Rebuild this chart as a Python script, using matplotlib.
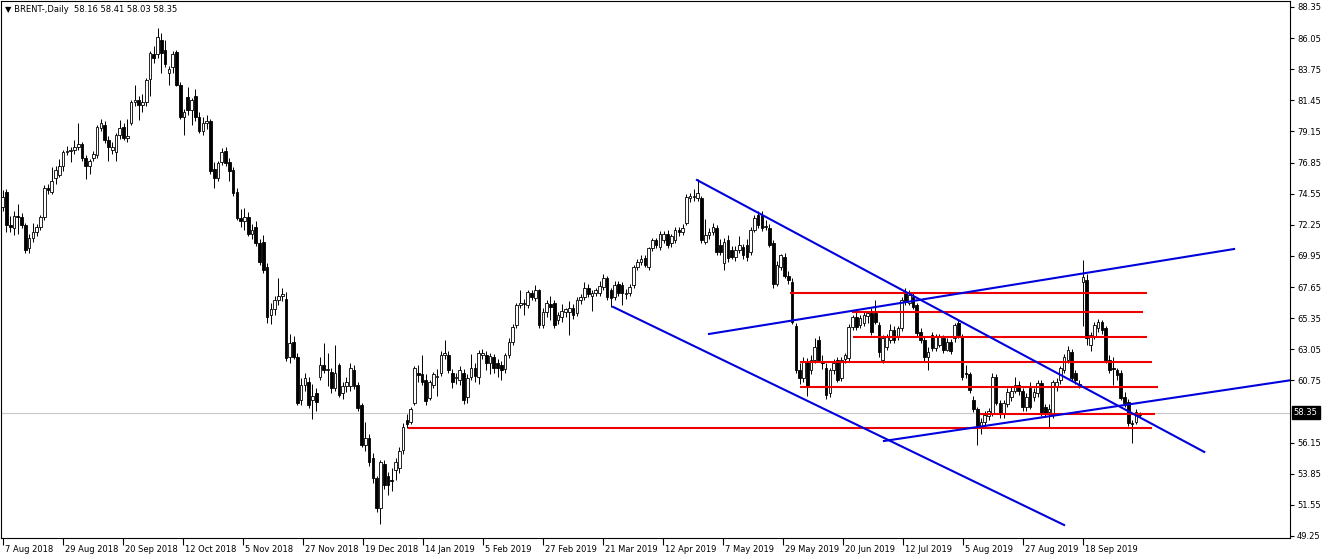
import numpy as np
import matplotlib.pyplot as plt
import matplotlib.transforms as mtransforms

# Daily BRENT candles (bar 0 = 7 Aug 2018)
opens = [
    73.6, 74.7, 72.2, 72.0, 72.9, 72.8, 72.2, 70.5, 71.3, 71.7,
    72.1, 72.8, 75.0, 74.7, 75.7, 75.9, 76.6, 77.6, 77.7, 77.8,
    78.0, 78.2, 77.2, 76.6, 77.2, 77.4, 79.4, 79.6, 78.5, 77.8,
    77.6, 78.9, 79.5, 78.7, 79.8, 81.3, 81.5, 81.1, 81.3, 83.0,
    84.9, 84.9, 85.9, 85.2, 83.5, 83.9, 85.0, 82.6, 80.2, 81.7,
    80.7, 81.8, 80.2, 79.2, 79.8, 79.9, 76.4, 75.7, 76.9, 77.7,
    76.9, 76.3, 74.7, 72.75, 72.5, 72.85, 71.6, 72.1, 70.9, 71.0,
    69.1, 65.6, 66.0, 66.7, 67.0, 66.8, 62.5, 63.6, 62.5, 59.3,
    60.4, 60.6, 59.3, 59.8, 61.0, 61.9, 61.5, 61.4, 60.2, 61.9,
    59.8, 60.3, 60.3, 61.5, 60.4, 58.9, 56.0, 56.5, 55.0, 53.5,
    51.3, 54.6, 53.7, 53.4, 54.1, 54.3, 55.6, 57.8, 57.7, 59.1,
    61.3, 61.2, 60.8, 59.45, 60.4, 61.0, 61.3, 62.6, 62.6, 61.3,
    60.9, 60.8, 61.3, 59.5, 61.0, 61.7, 61.0, 62.6, 62.6, 62.0,
    62.5, 62.0, 61.9, 61.6, 62.6, 63.6, 64.85, 66.3, 66.5, 66.3,
    67.2, 66.85, 67.4, 64.85, 65.8, 66.4, 66.5, 65.2, 65.4, 65.8,
    65.8, 66.1, 65.7, 66.7, 66.9, 67.6, 67.0, 67.2, 67.2, 67.65,
    68.3, 67.4, 66.9, 67.9, 67.8, 67.1, 67.2, 67.8, 69.1, 69.5,
    69.8, 69.1, 70.5, 71.1, 70.6, 71.1, 71.6, 70.9, 71.1, 71.9,
    71.7, 72.4, 74.2, 74.3, 74.25, 74.25, 71.0, 71.5, 71.7, 72.0,
    70.75, 69.4, 71.1, 70.4, 69.9, 70.4, 70.6, 70.75, 70.25, 71.9,
    73.0, 73.0, 72.1, 72.0, 70.9, 67.9, 69.1, 69.9, 68.5, 68.0,
    64.8, 61.5, 60.9, 62.1, 61.5, 62.25, 63.7, 62.2, 61.7, 59.8,
    61.5, 62.25, 60.9, 62.3, 62.4, 64.7, 65.45, 64.85, 65.0, 65.5,
    65.7, 65.7, 64.85, 62.25, 63.2, 63.75, 64.5, 63.95, 64.6, 67.2,
    66.5, 66.9, 66.3, 64.3, 63.75, 62.5, 64.1, 63.15, 63.4, 63.9,
    63.0, 63.6, 63.85, 65.0, 63.95, 61.3, 61.2, 59.3, 58.6, 57.3,
    57.7, 58.1, 58.35, 61.0, 59.1, 58.3, 59.0, 59.5, 60.0, 60.4,
    60.0, 58.8, 60.2, 59.5, 59.8, 60.55, 58.8, 58.4, 58.35, 60.3,
    60.75, 61.5, 62.25, 62.85, 61.3, 60.5, 68.0, 68.2, 63.4, 64.0,
    64.6, 65.05, 64.6, 62.25, 61.7, 61.5, 61.3, 59.5, 59.15, 57.6,
    57.65, 58.16,
]
highs = [
    74.8, 74.9, 72.9, 73.3, 73.8, 73.1, 72.4, 71.6, 72.4, 72.3,
    73.0, 75.2, 75.3, 76.5, 76.6, 77.1, 77.8, 78.1, 78.0, 78.5,
    79.8, 78.4, 77.4, 77.1, 77.7, 79.6, 80.1, 79.9, 78.8, 78.4,
    79.0, 80.0, 79.8, 80.1, 81.5, 82.6, 81.8, 81.9, 83.1, 85.1,
    85.5, 86.8, 86.4, 85.9, 84.0, 85.1, 85.2, 82.8, 80.8, 82.4,
    81.6, 82.3, 80.6, 80.2, 80.4, 80.1, 76.9, 77.0, 77.9, 78.0,
    77.2, 76.5, 75.0, 73.4, 73.5, 73.2, 72.3, 72.5, 71.2, 71.5,
    69.4, 66.5, 67.0, 68.3, 67.6, 67.3, 64.2, 64.0, 62.8, 60.9,
    61.3, 61.0, 60.5, 60.2, 62.5, 63.5, 62.8, 61.7, 63.4, 62.0,
    60.6, 61.0, 62.0, 61.9, 60.6, 59.1, 57.7, 56.8, 55.4, 53.7,
    54.9, 54.9, 54.0, 54.3, 55.0, 55.8, 57.6, 58.3, 58.8, 61.8,
    61.9, 62.6, 61.2, 60.8, 61.4, 61.6, 62.9, 63.7, 62.9, 61.6,
    61.3, 61.8, 61.6, 61.2, 62.7, 62.0, 63.0, 63.1, 62.9, 62.8,
    62.7, 62.3, 62.2, 62.8, 63.9, 64.9, 66.5, 67.4, 66.8, 67.4,
    67.4, 67.8, 67.5, 66.1, 66.7, 67.0, 66.7, 65.8, 66.4, 66.1,
    66.6, 66.4, 66.9, 67.1, 68.0, 67.9, 67.4, 67.6, 68.1, 68.6,
    68.5, 67.6, 68.1, 68.1, 68.0, 67.5, 67.9, 69.3, 69.7, 70.0,
    70.0, 70.6, 71.3, 71.3, 71.8, 71.8, 71.9, 71.6, 72.1, 72.1,
    72.3, 74.5, 74.6, 74.9, 75.6, 74.4, 72.7, 72.0, 72.4, 72.2,
    71.2, 71.3, 71.5, 70.7, 70.7, 71.4, 70.8, 71.2, 72.1, 73.0,
    73.3, 73.3, 72.6, 72.3, 71.1, 69.6, 70.1, 70.2, 68.8, 68.3,
    65.0, 62.0, 62.5, 62.4, 62.6, 63.9, 64.0, 62.6, 62.0, 61.7,
    62.3, 62.5, 62.5, 62.8, 64.9, 65.6, 65.8, 65.6, 65.9, 65.9,
    66.1, 66.7, 65.1, 64.1, 64.2, 64.9, 64.8, 64.8, 66.9, 67.6,
    67.4, 67.2, 66.5, 64.6, 64.0, 63.2, 64.3, 64.2, 64.2, 64.1,
    63.9, 63.8, 65.0, 65.3, 64.2, 61.9, 61.4, 59.6, 58.8, 58.0,
    58.5, 58.7, 61.3, 61.2, 59.3, 59.3, 60.2, 60.3, 61.0, 60.7,
    60.2, 59.8, 60.6, 60.2, 60.8, 60.8, 59.0, 59.0, 60.8, 60.9,
    61.8, 62.7, 63.3, 63.1, 61.5, 60.8, 69.65, 68.6, 64.3, 65.1,
    65.3, 65.2, 64.8, 62.6, 62.5, 61.7, 61.5, 59.9, 59.4, 57.8,
    58.6, 58.41,
]
lows = [
    73.3, 71.7, 71.7, 71.5, 71.6, 72.0, 70.2, 70.2, 71.0, 71.4,
    71.9, 72.6, 74.5, 74.5, 75.3, 75.8, 76.2, 77.4, 76.9, 77.5,
    77.8, 77.0, 75.6, 76.0, 77.0, 77.2, 79.2, 78.3, 77.0, 77.5,
    77.0, 78.6, 78.5, 78.4, 79.6, 81.0, 80.0, 80.6, 81.0, 81.8,
    84.2, 84.6, 83.5, 83.9, 82.6, 83.5, 82.5, 80.1, 78.9, 80.4,
    79.6, 79.9, 79.0, 78.9, 79.3, 76.0, 75.0, 75.5, 76.7, 76.6,
    75.5, 74.4, 72.6, 72.1, 71.9, 71.4, 71.2, 70.7, 69.3, 68.7,
    65.0, 64.9, 65.6, 66.3, 66.6, 62.2, 62.0, 62.3, 58.9, 58.9,
    60.0, 58.7, 57.9, 58.5, 60.8, 61.3, 60.3, 59.8, 60.0, 59.5,
    59.4, 59.9, 60.0, 60.1, 58.5, 55.8, 55.5, 54.4, 53.2, 51.0,
    50.1, 52.7, 52.3, 52.6, 53.4, 53.9, 55.3, 57.2, 57.5, 58.9,
    60.6, 60.4, 58.9, 59.3, 60.2, 59.6, 61.1, 62.3, 61.3, 60.2,
    60.5, 60.4, 59.0, 59.1, 60.8, 60.6, 60.5, 62.3, 61.5, 61.2,
    61.3, 61.0, 60.8, 61.3, 62.4, 63.4, 64.6, 66.1, 65.6, 66.1,
    66.7, 66.6, 64.6, 64.6, 65.4, 65.2, 64.6, 64.9, 65.1, 65.4,
    64.1, 65.3, 65.5, 66.4, 66.7, 66.9, 65.9, 67.0, 67.0, 67.4,
    66.7, 66.2, 66.7, 67.0, 66.3, 66.8, 67.0, 67.6, 68.9, 69.3,
    69.1, 68.9, 70.3, 70.5, 70.4, 70.9, 70.5, 70.6, 70.9, 71.4,
    71.5, 72.2, 73.9, 74.0, 74.0, 70.9, 70.8, 71.2, 71.5, 70.0,
    70.0, 68.9, 69.5, 69.7, 69.6, 70.2, 69.7, 69.6, 70.0, 71.7,
    72.0, 71.8, 71.9, 70.6, 67.6, 67.7, 68.9, 68.3, 67.9, 64.9,
    61.3, 60.5, 60.6, 59.6, 61.2, 62.0, 62.1, 61.6, 59.4, 59.5,
    61.2, 60.6, 60.7, 62.0, 62.2, 64.5, 64.5, 64.6, 64.8, 65.0,
    64.1, 64.9, 62.5, 62.0, 63.0, 63.5, 63.5, 63.7, 64.4, 66.3,
    66.3, 66.0, 64.0, 63.5, 62.2, 61.5, 62.9, 62.9, 63.2, 62.8,
    62.9, 62.7, 63.6, 63.9, 60.8, 60.9, 59.8, 58.4, 56.0, 56.8,
    57.4, 57.8, 58.1, 58.9, 58.0, 58.0, 58.8, 59.2, 59.8, 59.7,
    58.5, 58.5, 58.6, 59.2, 59.5, 58.1, 58.1, 57.3, 58.0, 60.0,
    60.5, 61.3, 62.0, 60.7, 60.5, 60.2, 64.8, 63.4, 62.9, 63.8,
    64.3, 64.2, 62.0, 61.3, 60.4, 60.8, 59.3, 58.8, 57.4, 56.1,
    57.5, 58.03,
]
closes = [
    74.3, 72.2, 72.1, 72.9, 72.8, 72.2, 70.4, 71.3, 71.7, 72.1,
    72.8, 75.0, 74.8, 75.5, 76.3, 76.6, 77.6, 77.7, 77.8, 78.0,
    78.2, 77.2, 76.6, 77.0, 77.5, 79.5, 79.8, 78.5, 78.0, 78.0,
    78.9, 79.4, 78.7, 78.8, 81.3, 81.5, 81.1, 81.3, 82.95, 84.95,
    84.6, 86.1, 84.95, 84.1, 83.8, 84.9, 82.6, 80.2, 80.6, 80.7,
    81.5, 80.2, 79.2, 79.8, 79.9, 76.2, 75.7, 76.8, 77.6, 76.8,
    76.2, 74.6, 72.75, 72.5, 72.8, 71.6, 71.9, 70.9, 69.5, 68.9,
    65.4, 66.0, 66.7, 67.0, 67.1, 62.4, 63.5, 62.5, 59.1, 60.4,
    60.9, 58.9, 59.6, 59.15, 61.9, 61.5, 61.6, 60.2, 61.3, 59.7,
    60.3, 60.6, 61.7, 60.3, 58.7, 56.0, 56.5, 54.7, 53.5, 51.3,
    54.7, 53.0, 53.0, 53.3, 54.7, 55.5, 57.3, 57.5, 58.6, 61.7,
    61.15, 60.6, 59.2, 60.6, 61.2, 61.1, 62.6, 62.8, 61.5, 60.6,
    61.0, 61.5, 59.3, 60.9, 61.7, 61.1, 62.8, 62.8, 62.0, 62.55,
    61.65, 61.65, 61.5, 62.6, 63.6, 64.7, 66.3, 66.5, 66.4, 67.3,
    66.9, 67.4, 64.85, 65.8, 66.5, 66.2, 64.85, 65.6, 65.9, 66.0,
    66.1, 65.6, 66.7, 66.9, 67.6, 67.1, 67.2, 67.4, 67.7, 68.3,
    66.9, 66.85, 67.8, 67.2, 67.2, 67.2, 67.65, 69.1, 69.5, 69.7,
    69.3, 70.5, 71.1, 70.75, 71.6, 71.6, 70.75, 71.4, 71.9, 71.7,
    72.0, 74.3, 74.4, 74.35, 74.6, 71.1, 71.5, 71.7, 72.1, 70.25,
    70.25, 71.0, 69.8, 69.9, 70.4, 70.75, 70.0, 69.9, 71.9, 72.75,
    72.25, 72.0, 72.15, 70.75, 67.9, 69.25, 70.0, 68.5, 68.2, 65.1,
    61.5, 60.9, 62.1, 60.3, 62.25, 63.2, 62.25, 62.0, 59.7, 61.5,
    62.0, 60.8, 62.25, 62.6, 64.7, 65.4, 64.7, 65.35, 65.6, 65.7,
    64.3, 65.05, 62.85, 63.9, 63.95, 64.5, 63.75, 64.6, 66.7, 66.55,
    67.05, 66.2, 64.25, 63.75, 62.5, 62.85, 63.15, 63.95, 64.0, 63.0,
    63.6, 62.9, 64.85, 64.1, 61.0, 61.2, 60.05, 58.6, 57.3, 57.7,
    58.2, 58.45, 61.0, 59.1, 58.3, 59.05, 59.9, 60.0, 60.4, 60.0,
    58.8, 59.5, 58.8, 59.9, 60.55, 58.35, 58.35, 58.6, 60.6, 60.65,
    61.65, 62.5, 63.0, 60.9, 60.8, 60.4, 68.4, 63.9, 64.1, 64.85,
    65.05, 64.45, 62.25, 61.5, 61.6, 61.15, 59.45, 59.05, 57.6, 57.5,
    58.4, 58.35,
]

date_labels = ['7 Aug 2018', '29 Aug 2018', '20 Sep 2018', '12 Oct 2018', '5 Nov 2018',
               '27 Nov 2018', '19 Dec 2018', '14 Jan 2019', '5 Feb 2019', '27 Feb 2019',
               '21 Mar 2019', '12 Apr 2019', '7 May 2019', '29 May 2019', '20 Jun 2019',
               '12 Jul 2019', '5 Aug 2019', '27 Aug 2019', '18 Sep 2019']

# trend lines: (bar, price) -> (bar, price)
blue_lines = [
    ((183.8, 75.56), (318.1, 55.46)),
    ((161.6, 66.18), (281.0, 50.06)),
    ((187.0, 64.18), (326.0, 70.46)),
    ((233.3, 56.27), (345.0, 60.93)),
]
# horizontal levels: price, first bar, last bar
red_levels = [67.21, 65.81, 63.96, 62.11, 60.26, 58.27, 57.23]
red_start = [208.4, 224.9, 225.1, 211.1, 211.1, 258.8, 107.3]
red_end = [303.0, 301.9, 303.0, 304.3, 305.9, 305.1, 304.3]

last_price = 58.35

o = np.array(opens)
h = np.array(highs)
l = np.array(lows)
c = np.array(closes)
x = np.arange(len(c))

fig = plt.figure(figsize=(13.32, 5.59), dpi=100)
ax = fig.add_axes([1/1332, 21/559, 1289/1332, 537/559])

ax.axhline(last_price, color='#c8c8c8', lw=0.8, zorder=1)

# candles: white = bull, black = bear
ax.vlines(x, l, h, color='black', lw=0.7, zorder=2)
up = c >= o
body_lo = np.minimum(o, c)
body_h = np.maximum(np.abs(c - o), 0.03)
ax.bar(x[up], body_h[up], bottom=body_lo[up], width=0.7, color='white',
       edgecolor='black', linewidth=0.6, zorder=3)
ax.bar(x[~up], body_h[~up], bottom=body_lo[~up], width=0.7, color='black',
       edgecolor='black', linewidth=0.6, zorder=3)

# drawn objects
ax.hlines(red_levels, red_start, red_end, color='#ee0000', lw=1.5, zorder=4)
for (x0, y0), (x1, y1) in blue_lines:
    ax.plot([x0, x1], [y0, y1], color='#0000dd', lw=1.5, zorder=4)

ax.set_xlim(-0.45, 340.8)
ax.set_ylim(49.10, 88.79)

# price scale on the right
yt = [49.25 + 2.3 * k for k in range(18) if k != 4]
ax.yaxis.tick_right()
ax.set_yticks(yt)
ax.set_yticklabels([f'{v:.2f}' for v in yt])
ax.tick_params(axis='y', direction='out', length=3, width=0.8, labelsize=6, pad=2)

ax.set_xticks(np.arange(len(date_labels)) * 15.89)
ax.set_xticklabels(date_labels)
ax.tick_params(axis='x', direction='out', length=5, width=0.8, labelsize=6, pad=0)
shift = mtransforms.ScaledTranslation(2/100, 0, fig.dpi_scale_trans)
for lab in ax.get_xticklabels():
    lab.set_horizontalalignment('left')
    lab.set_transform(lab.get_transform() + shift)

for sp in ax.spines.values():
    sp.set_color('black')
    sp.set_linewidth(0.8)

ax.text(0.003, 0.992, '\u25bc BRENT-,Daily  58.16 58.41 58.03 58.35',
        transform=ax.transAxes, fontsize=6, va='top', ha='left')

trans = mtransforms.blended_transform_factory(ax.transAxes, ax.transData)
ax.text(1.003, last_price, f'{last_price:.2f}', transform=trans, fontsize=6,
        color='white', va='center', ha='left', clip_on=False,
        bbox=dict(boxstyle='square,pad=0.25', fc='black', ec='black'))

fig.savefig('out.png', dpi=100)
